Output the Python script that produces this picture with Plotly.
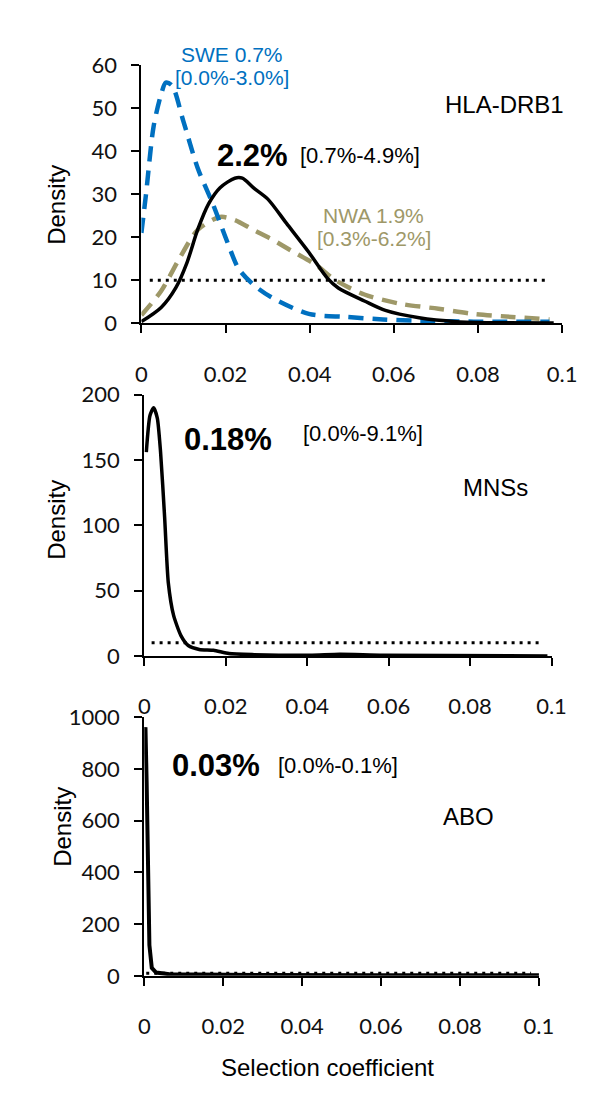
import plotly.graph_objects as go

# HLA-DRB1 panel: overall (black), SWE (blue dashed), NWA (tan dashed)
hla_x = [0, 0.0047, 0.0082, 0.0108, 0.0134, 0.016, 0.0187, 0.0222, 0.024, 0.0266, 0.030,
         0.0345, 0.0398, 0.0442, 0.0468, 0.053, 0.058, 0.066, 0.075, 0.084, 0.098]
hla_y = [0.4, 3.7, 8.3, 14, 21.8, 27.8, 31.5, 33.7, 33.7, 31.5, 28.9,
         23.2, 16.5, 10.5, 8.2, 5.2, 3.0, 1.3, 0.4, 0.15, 0.1]

swe_x = [0, 0.0011, 0.0029, 0.0047, 0.0058, 0.0073, 0.0099, 0.0134, 0.017, 0.0205, 0.0231,
         0.0266, 0.031, 0.0398, 0.0486, 0.0574, 0.066, 0.079, 0.097]
swe_y = [21, 30, 45.7, 53.2, 55.9, 55.2, 47.2, 36, 27.7, 18.7, 12.7,
         9, 6, 2.2, 1.5, 0.9, 0.6, 0.4, 0.4]

nwa_x = [0, 0.0047, 0.009, 0.0134, 0.0187, 0.0222, 0.0266, 0.031, 0.0363, 0.0416, 0.046,
         0.053, 0.0618, 0.0706, 0.079, 0.088, 0.097]
nwa_y = [1.9, 7.5, 15, 21.7, 24.7, 24, 21.7, 19.5, 16.5, 13.5, 10.1,
         6.7, 4.5, 3.4, 2.2, 1.5, 0.9]

# MNSs panel
mns_x = [0.0005, 0.0014, 0.0023, 0.0032, 0.004, 0.005, 0.0059, 0.0072, 0.009, 0.0108,
         0.0135, 0.017, 0.0208, 0.027, 0.0407, 0.048, 0.0587, 0.099]
mns_y = [156, 184, 190, 182, 156, 106, 56, 31, 15.6, 8,
         5, 4.3, 1.8, 1, 0.5, 1.2, 0.5, 0]

# ABO panel
abo_x = [0.0001, 0.0003, 0.0006, 0.0009, 0.0013, 0.0019, 0.003, 0.0064, 0.014, 0.03, 0.06, 0.1]
abo_y = [940, 962, 748, 371, 119, 31, 12.6, 6, 4, 3, 2.5, 2.5]

# density = 10 reference line
thr_x = [[0.002, 0.0965], [0.0018, 0.098], [0.0005, 0.098]]
thr_y = [10, 10]

y_ranges = [[0, 60], [0, 200], [0, 1000]]
y_dticks = [10, 50, 200]

W, H = 600, 1093
def px(x): return x / W
def py(y): return 1 - y / H

blue = '#0070C0'
tan = '#9E9868'
dotted = dict(color='black', width=3, dash='3px,5px')

fig = go.Figure()

fig.add_trace(go.Scatter(x=thr_x[0], y=thr_y, mode='lines', xaxis='x', yaxis='y', line=dotted))
fig.add_trace(go.Scatter(x=nwa_x, y=nwa_y, mode='lines', xaxis='x', yaxis='y',
                         line=dict(color=tan, width=4.5, dash='15px,9px', shape='spline', smoothing=0.8)))
fig.add_trace(go.Scatter(x=swe_x, y=swe_y, mode='lines', xaxis='x', yaxis='y',
                         line=dict(color=blue, width=4.5, dash='15px,9px', shape='spline', smoothing=0.8)))
fig.add_trace(go.Scatter(x=hla_x, y=hla_y, mode='lines', xaxis='x', yaxis='y',
                         line=dict(color='black', width=3.5, shape='spline', smoothing=0.8)))

fig.add_trace(go.Scatter(x=thr_x[1], y=thr_y, mode='lines', xaxis='x2', yaxis='y2', line=dotted))
fig.add_trace(go.Scatter(x=mns_x, y=mns_y, mode='lines', xaxis='x2', yaxis='y2',
                         line=dict(color='black', width=3.5, shape='spline', smoothing=0.6)))

fig.add_trace(go.Scatter(x=thr_x[2], y=thr_y, mode='lines', xaxis='x3', yaxis='y3', line=dotted))
fig.add_trace(go.Scatter(x=abo_x, y=abo_y, mode='lines', xaxis='x3', yaxis='y3',
                         line=dict(color='black', width=4)))

x_domains = [[px(132), px(568)], [px(135), px(557)], [px(135), px(544)]]
y_domains = [[py(309), py(44)], [py(650), py(382)], [py(978), py(713)]]

axis_common = dict(showgrid=False, zeroline=False, showline=True, linecolor='black', linewidth=2,
                   ticks='outside', ticklen=8, tickwidth=2, tickcolor='black',
                   tickfont=dict(family='Lato', size=22, color='#111'))

layout = dict(width=W, height=H, margin=dict(l=0, r=0, t=0, b=0),
              plot_bgcolor='white', paper_bgcolor='white', showlegend=False)
for i in range(3):
    s = '' if i == 0 else str(i + 1)
    layout['xaxis' + s] = dict(axis_common, domain=x_domains[i], range=[0, 0.1], dtick=0.02, tick0=0,
                               anchor='y' + s, ticklabelstandoff=22)
    layout['yaxis' + s] = dict(axis_common, domain=y_domains[i], range=y_ranges[i], dtick=y_dticks[i],
                               anchor='x' + s, ticklabelstandoff=10)
fig.update_layout(**layout)

arial = 'Liberation Sans, Arial'
notes = [
    ('SWE 0.7%', 226, 33, 21, blue, False),
    ('[0.0%-3.0%]', 226, 57, 21, blue, False),
    ('HLA-DRB1', 508, 85, 24, 'black', False),
    ('<b>2.2%</b>', 247, 137, 31, 'black', True),
    ('[0.7%-4.9%]', 359, 137, 22, 'black', False),
    ('NWA 1.9%', 373, 198, 21, tan, False),
    ('[0.3%-6.2%]', 373, 222, 21, tan, False),
    ('<b>0.18%</b>', 222, 428, 31, 'black', True),
    ('[0.0%-9.1%]', 362, 422, 22, 'black', False),
    ('MNSs', 499, 477, 24, 'black', False),
    ('<b>0.03%</b>', 209, 762, 31, 'black', True),
    ('[0.0%-0.1%]', 336, 762, 22, 'black', False),
    ('ABO', 471, 815, 24, 'black', False),
    ('Selection coefficient', 325, 1072, 24, 'black', False),
]
for text, x, y, size, color, bold in notes:
    fig.add_annotation(text=text, x=px(x), y=py(y), xref='paper', yref='paper', showarrow=False,
                       xanchor='center', yanchor='middle',
                       font=dict(family=arial, size=size, color=color))

for x, y in [(44, 187), (44, 510), (50, 825)]:
    fig.add_annotation(text='Density', x=px(x), y=py(y), xref='paper', yref='paper', showarrow=False,
                       textangle=-90, xanchor='center', yanchor='middle',
                       font=dict(family=arial, size=24, color='black'))

fig.write_html("out.html")
